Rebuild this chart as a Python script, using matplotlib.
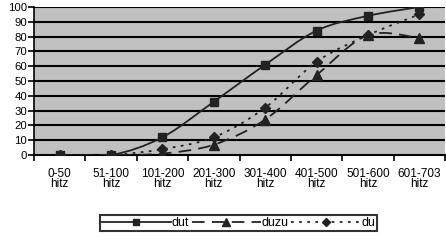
import numpy as np
import matplotlib.pyplot as plt
from matplotlib.path import Path
from matplotlib.patches import PathPatch
from matplotlib.lines import Line2D

plt.rcParams['font.family'] = ['Liberation Sans', 'DejaVu Sans']

categories = ['0-50\nhitz', '51-100\nhitz', '101-200\nhitz', '201-300\nhitz',
              '301-400\nhitz', '401-500\nhitz', '501-600\nhitz', '601-703\nhitz']
dut = [0, 0, 12, 36, 61, 84, 94, 100]
duzu = [0, 0, 1, 7, 24, 54, 81, 79]
du = [0, 0, 4, 12, 32, 63, 81, 95]

x = np.arange(len(categories))


def smooth_path(xs, ys):
    # excel-like smoothed line: cubic bezier through the points
    p = np.column_stack([xs, ys]).astype(float)
    verts = [p[0]]
    codes = [Path.MOVETO]
    n = len(p)
    for i in range(n - 1):
        p0 = p[i - 1] if i > 0 else p[i]
        p3 = p[i + 2] if i + 2 < n else p[i + 1]
        c1 = p[i] + (p[i + 1] - p0) / 6
        c2 = p[i + 1] - (p3 - p[i]) / 6
        verts += [c1, c2, p[i + 1]]
        codes += [Path.CURVE4] * 3
    return Path(verts, codes)


fig = plt.figure(figsize=(4.46, 2.4), dpi=100)
ax = fig.add_axes([0.076, 0.354, 0.922, 0.617])
ax.set_facecolor('#c0c0c0')

c = '#222222'
styles = [('dut', dut, '-', 's', 6), ('duzu', duzu, (0, (7, 4)), '^', 7),
          ('du', du, (0, (1.5, 3)), 'D', 5)]
handles = []
for name, vals, ls, mk, ms in styles:
    ax.add_patch(PathPatch(smooth_path(x, vals), fill=False, edgecolor=c, lw=1.3,
                           ls=ls, zorder=3))
    ax.plot(x, vals, ls='none', color=c, marker=mk, ms=ms, zorder=4)
    handles.append(Line2D([], [], color=c, lw=1.3, ls=ls, marker=mk, ms=ms * 0.75))

ax.set_xlim(-0.5, 7.5)
ax.set_ylim(0, 100)
ax.set_yticks(range(0, 101, 10))
for yv in range(10, 101, 10):
    ax.axhline(yv, color='black', lw=1.5, zorder=1)

ax.set_xticks(x)
ax.set_xticklabels(categories, fontsize=8.5, linespacing=0.8)
ax.tick_params(axis='x', length=0, pad=9)
ax.set_xticks(np.arange(-0.5, 8, 1), minor=True)
ax.tick_params(axis='x', which='minor', length=4, width=1.2, direction='out')
ax.tick_params(axis='y', labelsize=8.2, length=4, width=1.2, pad=1)

for s in ['top', 'right']:
    ax.spines[s].set_visible(False)
ax.spines['left'].set_linewidth(1.2)
ax.spines['bottom'].set_linewidth(1.5)

leg = fig.legend(handles, ['dut', 'duzu', 'du'], loc='center',
                 bbox_to_anchor=(0.535, 0.07), ncol=3, fontsize=9,
                 frameon=True, fancybox=False, edgecolor='black', handlelength=5.5,
                 handletextpad=0.1, columnspacing=0.2, borderpad=0.15)
leg.get_frame().set_linewidth(1.5)

fig.savefig('out.png', dpi=100)
